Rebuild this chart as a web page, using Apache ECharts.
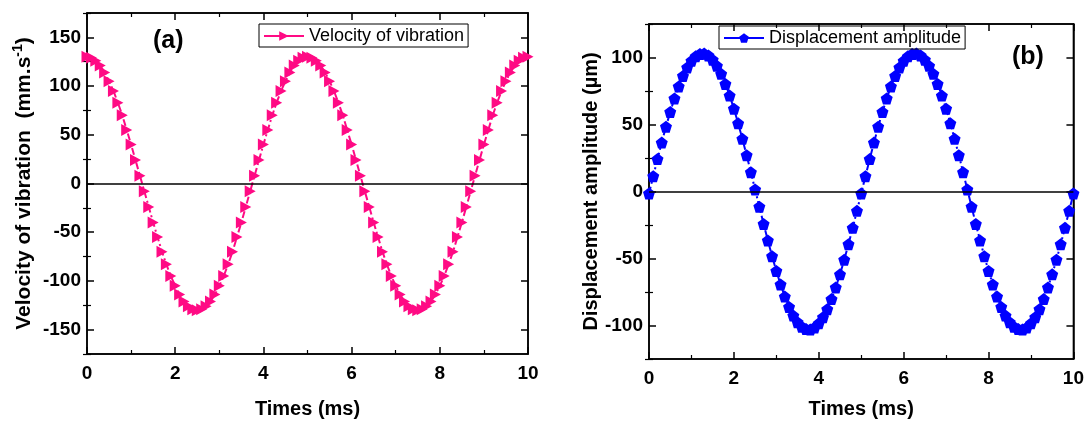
<!DOCTYPE html>
<html><head><meta charset="utf-8">
<script src="https://cdn.jsdelivr.net/npm/echarts@6/dist/echarts.min.js"></script>
<style>html,body{margin:0;padding:0;background:#fff}#c{width:1087px;height:424px}</style>
</head><body><div id="c"></div>
<script>
// Time axis (ms), 0.0 .. 10.0 step 0.1
const times = [0,0.1,0.2,0.3,0.4,0.5,0.6,0.7,0.8,0.9,1,1.1,1.2,1.3,1.4,1.5,1.6,1.7,1.8,1.9,2,2.1,2.2,2.3,2.4,2.5,2.6,2.7,2.8,2.9,3,3.1,3.2,3.3,3.4,3.5,3.6,3.7,3.8,3.9,4,4.1,4.2,4.3,4.4,4.5,4.6,4.7,4.8,4.9,5,5.1,5.2,5.3,5.4,5.5,5.6,5.7,5.8,5.9,6,6.1,6.2,6.3,6.4,6.5,6.6,6.7,6.8,6.9,7,7.1,7.2,7.3,7.4,7.5,7.6,7.7,7.8,7.9,8,8.1,8.2,8.3,8.4,8.5,8.6,8.7,8.8,8.9,9,9.1,9.2,9.3,9.4,9.5,9.6,9.7,9.8,9.9,10];
// (a) Velocity of vibration (mm/s)
const velocity = [130,129,126,121,114,105,95,83,70,55,40,24,8,-8,-24,-40,-55,-70,-83,-95,-105,-114,-121,-126,-129,-130,-129,-126,-121,-114,-105,-95,-83,-70,-55,-40,-24,-8,8,24,40,55,70,83,95,105,114,121,126,129,130,
  129,126,121,114,105,95,83,70,55,40,24,8,-8,-24,-40,-55,-70,-83,-95,-105,-114,-121,-126,-129,-130,-129,-126,-121,-114,-105,-95,-83,-70,-55,-40,-24,-8,8,24,40,55,70,83,95,105,114,121,126,129,130];
// (b) Displacement amplitude (µm)
const displacement = [-1.5,11.4,24.2,36.5,48.3,59.3,69.4,78.4,86.2,92.6,97.5,100.9,102.7,102.9,101.5,98.4,93.8,87.8,80.3,71.6,61.8,50.9,39.3,27.1,14.4,1.5,-11.4,-24.2,-36.5,-48.3,-59.3,-69.4,-78.4,-86.2,-92.6,-97.5,-100.9,-102.7,-102.9,-101.5,-98.4,-93.8,-87.8,-80.3,-71.6,-61.8,-50.9,-39.3,-27.1,-14.4,-1.5,
  11.4,24.2,36.5,48.3,59.3,69.4,78.4,86.2,92.6,97.5,100.9,102.7,102.9,101.5,98.4,93.8,87.8,80.3,71.6,61.8,50.9,39.3,27.1,14.4,1.5,-11.4,-24.2,-36.5,-48.3,-59.3,-69.4,-78.4,-86.2,-92.6,-97.5,-100.9,-102.7,-102.9,-101.5,-98.4,-93.8,-87.8,-80.3,-71.6,-61.8,-50.9,-39.3,-27.1,-14.4,-1.5];
const xTicks = [0,2,4,6,8,10];
const velTicks = [-150,-100,-50,0,50,100,150];
const velMinor = [-175,-125,-75,-25,25,75,125,175];
const dispTicks = [-100,-50,0,50,100];
const dispMinor = [-125,-75,-25,25,75,125];

const FONT = '"Liberation Sans", Arial, sans-serif';
const pink = '#FF0A84', blue = '#0000FF';
const triRight = 'path://M0,0 L10,5 L0,10 Z';
const pentagon = 'path://M5,0 L9.755,3.455 L7.939,9.045 L2.061,9.045 L0.245,3.455 Z';
const TL = 7, TLm = 4;

function xAx(gi,pos,labels,gap){
  return {gridIndex:gi,type:'value',min:0,max:10,interval:2,position:pos,
    axisLine:{show:true,onZero:false,lineStyle:{color:'#000',width:1.5}},
    axisTick:{show:true,inside:true,length:TL,lineStyle:{color:'#000',width:1.5}},
    minorTick:{show:true,splitNumber:2,length:TLm,lineStyle:{color:'#000',width:1.2}},
    splitLine:{show:false},
    axisLabel:{show:labels,color:'#000',fontFamily:FONT,fontWeight:'bold',fontSize:19,margin:10,
      formatter:v=>xTicks.includes(v)?String(v):''},
    name:labels?'Times (ms)':'',nameLocation:'middle',nameGap:gap||0,
    nameTextStyle:{color:'#000',fontFamily:FONT,fontWeight:'bold',fontSize:20}};
}
function yMain(gi,min,max,ticks,pos,labels,name,gap,fs,rich){
  return {gridIndex:gi,type:'value',min:min,max:max,interval:25,position:pos,
    axisLine:{show:true,onZero:false,lineStyle:{color:'#000',width:1.5}},
    axisTick:{show:true,inside:true,length:TL,customValues:ticks,lineStyle:{color:'#000',width:1.5}},
    splitLine:{show:false},
    axisLabel:{show:labels,customValues:ticks,color:'#000',fontFamily:FONT,fontWeight:'bold',fontSize:19,margin:6},
    name:name||'',nameLocation:'middle',nameGap:gap||0,
    nameTextStyle:{color:'#000',fontFamily:FONT,fontWeight:'bold',fontSize:fs||20,rich:rich||{}}};
}
function yMinor(gi,min,max,vals,pos){
  return {gridIndex:gi,type:'value',min:min,max:max,interval:25,position:pos,
    axisLine:{show:false},
    axisTick:{show:true,inside:true,length:TLm,customValues:vals,lineStyle:{color:'#000',width:1.2}},
    splitLine:{show:false},axisLabel:{show:false}};
}
const richSup = {
  b:{fontFamily:FONT,fontWeight:'bold',fontSize:21,color:'#000'},
  sup:{fontFamily:FONT,fontWeight:'bold',fontSize:14,color:'#000',verticalAlign:'top',padding:[0,0,12,0]}
};
const zeroLine = {silent:true,symbol:'none',label:{show:false},
  lineStyle:{color:'#000',type:'solid',width:1.5},data:[{yAxis:0}],animation:false};
const legendBase = {orient:'horizontal',borderColor:'#000',borderWidth:1,padding:[3,4,2,4],
  itemWidth:40,itemHeight:12,itemGap:4,lineStyle:{type:'solid',width:2},
  textStyle:{fontFamily:FONT,fontSize:18,color:'#000'}};

const chart = echarts.init(document.getElementById('c'),null,{renderer:'canvas'});
chart.setOption({
  animation:false,
  backgroundColor:'#fff',
  grid:[
    {left:87,right:559,top:13,bottom:56,show:true,borderColor:'#000',borderWidth:1.5},
    {left:649,right:10,top:24,bottom:57,show:true,borderColor:'#000',borderWidth:1.5}
  ],
  xAxis:[xAx(0,'bottom',true,45),xAx(0,'top',false),xAx(1,'bottom',true,40),xAx(1,'top',false)],
  yAxis:[
    yMain(0,-175,175,velTicks,'left',true,'{b|Velocity of vibration  (mm.s}{sup|-1}{b|)}',50,21,richSup),
    yMain(0,-175,175,velTicks,'right',false),
    yMinor(0,-175,175,velMinor,'left'),
    yMinor(0,-175,175,velMinor,'right'),
    yMain(1,-125,125,dispTicks,'left',true,'Displacement amplitude (µm)',47,20),
    yMain(1,-125,125,dispTicks,'right',false),
    yMinor(1,-125,125,dispMinor,'left'),
    yMinor(1,-125,125,dispMinor,'right')
  ],
  legend:[
    Object.assign({data:['Velocity of vibration'],left:259,top:24},legendBase),
    Object.assign({data:['Displacement amplitude'],left:719,top:26},legendBase)
  ],
  graphic:[
    {type:'text',left:153,top:29,style:{text:'(a)',font:'bold 25px '+FONT,fill:'#000'}},
    {type:'text',left:1012,top:45,style:{text:'(b)',font:'bold 25px '+FONT,fill:'#000'}}
  ],
  series:[
    {name:'Velocity of vibration',type:'line',xAxisIndex:0,yAxisIndex:0,
      data:times.map((t,i)=>[t,velocity[i]]),
      symbol:triRight,symbolSize:[11,12],showAllSymbol:true,
      itemStyle:{color:pink},lineStyle:{color:pink,width:2,type:[7,3,2,3]},
      markLine:zeroLine,z:3},
    {name:'Displacement amplitude',type:'line',xAxisIndex:2,yAxisIndex:4,
      data:times.map((t,i)=>[t,displacement[i]]),
      symbol:pentagon,symbolSize:12,showAllSymbol:true,
      itemStyle:{color:blue},lineStyle:{color:blue,width:2,type:[7,3,2,3]},
      markLine:zeroLine,z:3}
  ]
});
</script></body></html>
